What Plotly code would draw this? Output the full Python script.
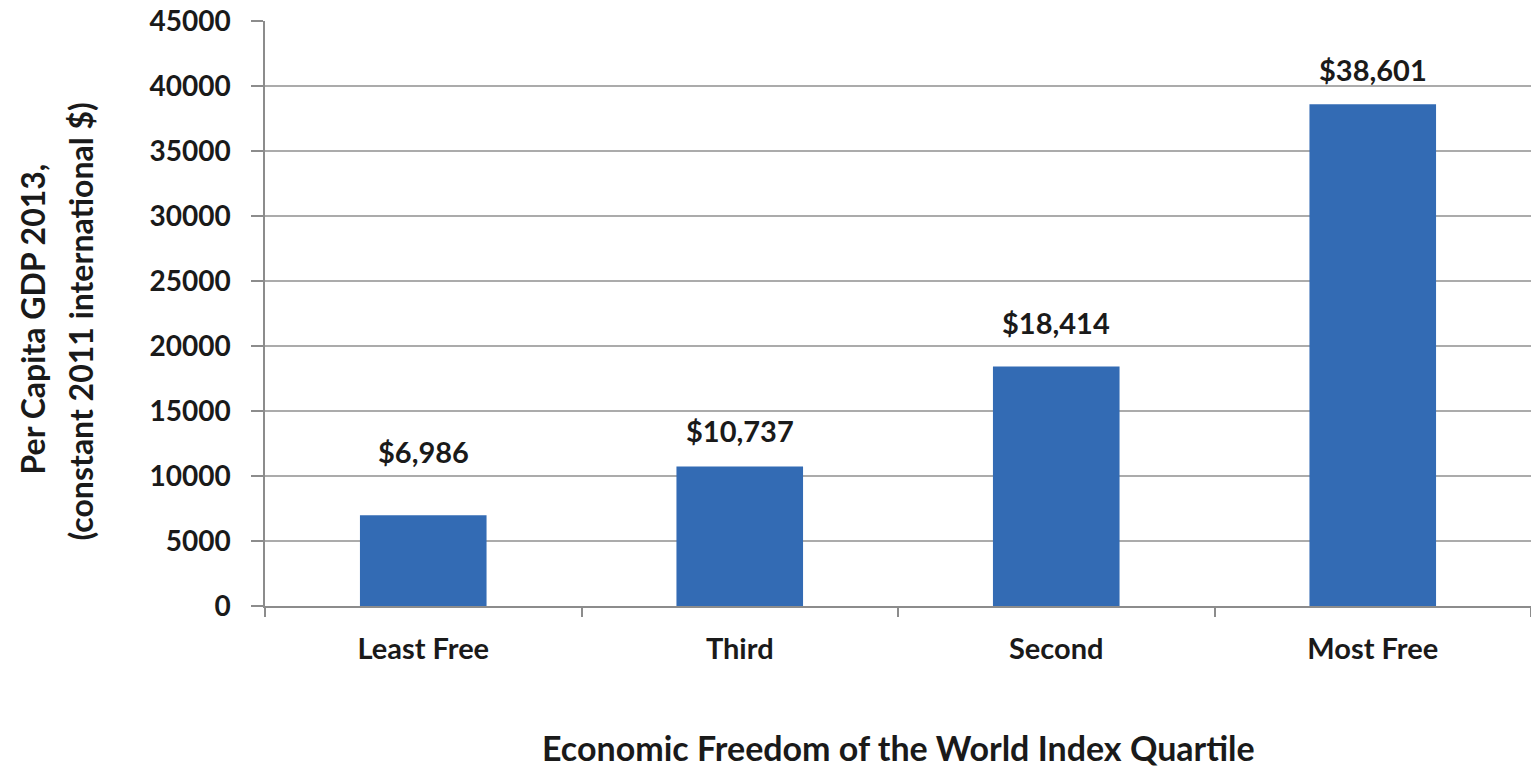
import plotly.graph_objects as go

categories = ["Least Free", "Third", "Second", "Most Free"]
gdp_values = [6986, 10737, 18414, 38601]
value_labels = ["$6,986", "$10,737", "$18,414", "$38,601"]
y_ticks = [0, 5000, 10000, 15000, 20000, 25000, 30000, 35000, 40000, 45000]

# style: pixel gap between bar top and label centre (as in the original)
label_gap_px = [64, 36, 44, 35]

FONT = "Lato"
TXT = "#1a1a1a"
fig = go.Figure()
fig.add_trace(go.Bar(
    x=categories, y=gdp_values,
    marker=dict(color="#336bb4", line=dict(width=0)),
    width=0.4,
    hoverinfo="skip",
))

for c, v, t, g in zip(categories, gdp_values, value_labels, label_gap_px):
    fig.add_annotation(x=c, y=v, text=t, showarrow=False, yanchor="middle",
                       yshift=g, font=dict(family=FONT, size=29, color=TXT, weight="bold"))

fig.add_annotation(x=0.5, y=0, xref="paper", yref="paper", text="Economic Freedom of the World Index Quartile",
                   showarrow=False, yanchor="middle", yshift=-141,
                   font=dict(family=FONT, size=34, color=TXT, weight="bold"))
fig.add_annotation(x=0, y=0.5, xref="paper", yref="paper",
                   text="Per Capita GDP 2013,",
                   showarrow=False, textangle=-90, xanchor="center", yanchor="middle", xshift=-233, yshift=-6,
                   font=dict(family=FONT, size=32, color=TXT, weight="bold"))
fig.add_annotation(x=0, y=0.5, xref="paper", yref="paper",
                   text="(constant 2011 international $)",
                   showarrow=False, textangle=-90, xanchor="center", yanchor="middle", xshift=-185, yshift=-8,
                   font=dict(family=FONT, size=32, color=TXT, weight="bold"))

fig.update_layout(
    width=1531, height=767,
    margin=dict(l=265, r=0, t=21, b=161),
    plot_bgcolor="white", paper_bgcolor="white",
    showlegend=False,
    font=dict(family=FONT, color=TXT),
)
fig.update_xaxes(
    type="category", tickson="boundaries", ticks="outside", ticklen=9, tickcolor="#8c8c8c", tickwidth=1.5,
    showline=True, linecolor="#8c8c8c", linewidth=1.5,
    tickfont=dict(family=FONT, size=29, color=TXT, weight="bold"), ticklabelstandoff=16,
    showgrid=False,
)
fig.update_yaxes(
    range=[0, 45000], tickvals=y_ticks, ticktext=[str(v) for v in y_ticks],
    ticks="outside", ticklen=12, tickcolor="#8c8c8c", tickwidth=1.5,
    showline=True, linecolor="#8c8c8c", linewidth=1.5,
    showgrid=True, gridcolor="#ababab", gridwidth=1.8,
    zeroline=False,
    tickfont=dict(family=FONT, size=28, color=TXT, weight="bold"), ticklabelstandoff=15,
)

fig.write_html("out.html")
